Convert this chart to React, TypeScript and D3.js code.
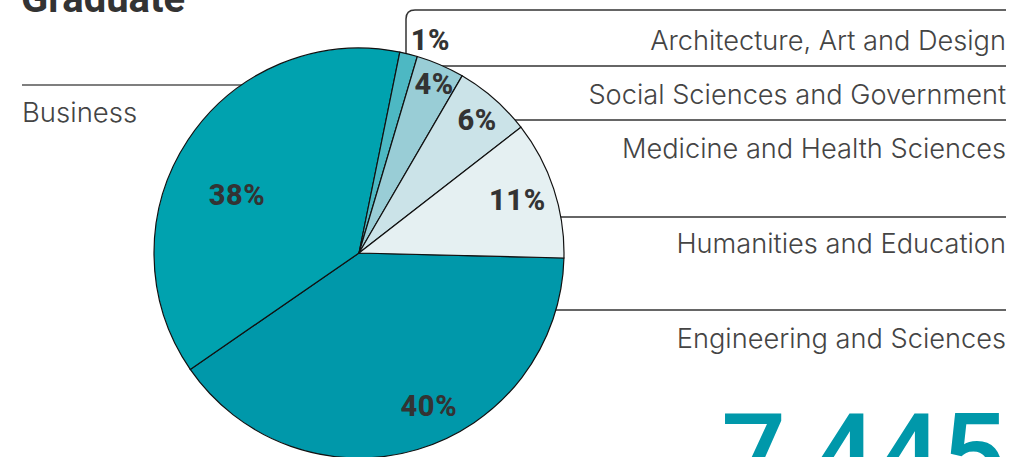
import React from "react";
import * as d3 from "d3";

const categories = [
  "Engineering and Sciences",
  "Business",
  "Architecture, Art and Design",
  "Social Sciences and Government",
  "Medicine and Health Sciences",
  "Humanities and Education",
];
const shares = [40.0, 37.8, 1.4, 3.8, 6.1, 10.9];
const colors = ["#0098aa", "#00a2af", "#4db8c3", "#99cdd6", "#cbe3e8", "#e5f0f2"];
const legendYs = [310, 85, 10, 66, 120, 217];
const title = "Graduate";
const total = "7,445";

const W = 1012;
const H = 457;

export default function App() {
  const cx = 359;
  const cy = 253;
  const r = 205;
  const startDeg = 91.4;
  const pie = d3
    .pie<number>()
    .sort(null)
    .value((d) => d)
    .startAngle((startDeg * Math.PI) / 180)
    .endAngle(((startDeg + 360) * Math.PI) / 180);
  const arcs = pie(shares);
  const arc = d3.arc<d3.PieArcDatum<number>>().innerRadius(0).outerRadius(r);

  // label placement per slice: radius and angle tweak (degrees)
  const labelR = [168, 135, 225, 185, 178, 167];
  const labelDA = [-8, -8, 4.5, 0.6, 0.4, -0.2];

  const labelFont = "'Inter', 'Roboto', sans-serif";
  const rightX = 1006;
  const textYOffset = [38, 37, 40, 38, 38, 36];

  return (
    <svg
      width={W}
      height={H}
      style={{ position: "absolute", left: 0, top: 0, background: "#fff" }}
    >
      <text
        x={21}
        y={12}
        fontFamily="'Roboto', sans-serif"
        fontWeight={700}
        fontSize={40}
        fill="#333"
      >
        {title}
      </text>

      {/* leader lines */}
      {categories.map((c, i) => {
        const y = legendYs[i];
        if (c === "Business") {
          return (
            <line key={c} x1={22} x2={cx} y1={y} y2={y} stroke="#555" strokeWidth={1.5} />
          );
        }
        if (i === 2) {
          return (
            <path
              key={c}
              d={`M406,${cy} L406,${y + 9} Q406,${y} 415,${y} L${rightX},${y}`}
              fill="none"
              stroke="#333"
              strokeWidth={1.5}
            />
          );
        }
        return (
          <line key={c} x1={cx} x2={rightX} y1={y} y2={y} stroke="#333" strokeWidth={1.5} />
        );
      })}

      <g transform={`translate(${cx},${cy})`}>
        {arcs.map((a, i) => (
          <path key={i} d={arc(a) || ""} fill={colors[i]} stroke="#111" strokeWidth={1.2} />
        ))}
      </g>

      {/* percent labels */}
      {arcs.map((a, i) => {
        const mid = (a.startAngle + a.endAngle) / 2 + (labelDA[i] * Math.PI) / 180;
        const x = cx + labelR[i] * Math.sin(mid);
        const y = cy - labelR[i] * Math.cos(mid);
        return (
          <text
            key={i}
            x={x}
            y={y + 10}
            textAnchor="middle"
            fontFamily="'Roboto', sans-serif"
            fontWeight={800}
            fontSize={29}
            letterSpacing={0.6}
            fill="#333"
          >
            {Math.round(shares[i])}%
          </text>
        );
      })}

      {/* category labels */}
      {categories.map((c, i) => {
        const y = legendYs[i] + textYOffset[i];
        if (c === "Business") {
          return (
            <text key={c} x={22} y={y} fontFamily={labelFont} fontWeight={300} fontSize={27.5} fill="#444">
              {c}
            </text>
          );
        }
        return (
          <text
            key={c}
            x={rightX}
            y={y}
            textAnchor="end"
            fontFamily={labelFont}
            fontWeight={300}
            fontSize={27.2}
            fill="#444"
          >
            {c}
          </text>
        );
      })}

      <text
        x={1006}
        y={494}
        textAnchor="end"
        fontFamily="'Roboto', sans-serif"
        fontWeight={500}
        fontSize={114}
        fill="#0098aa"
      >
        {total}
      </text>
    </svg>
  );
}
